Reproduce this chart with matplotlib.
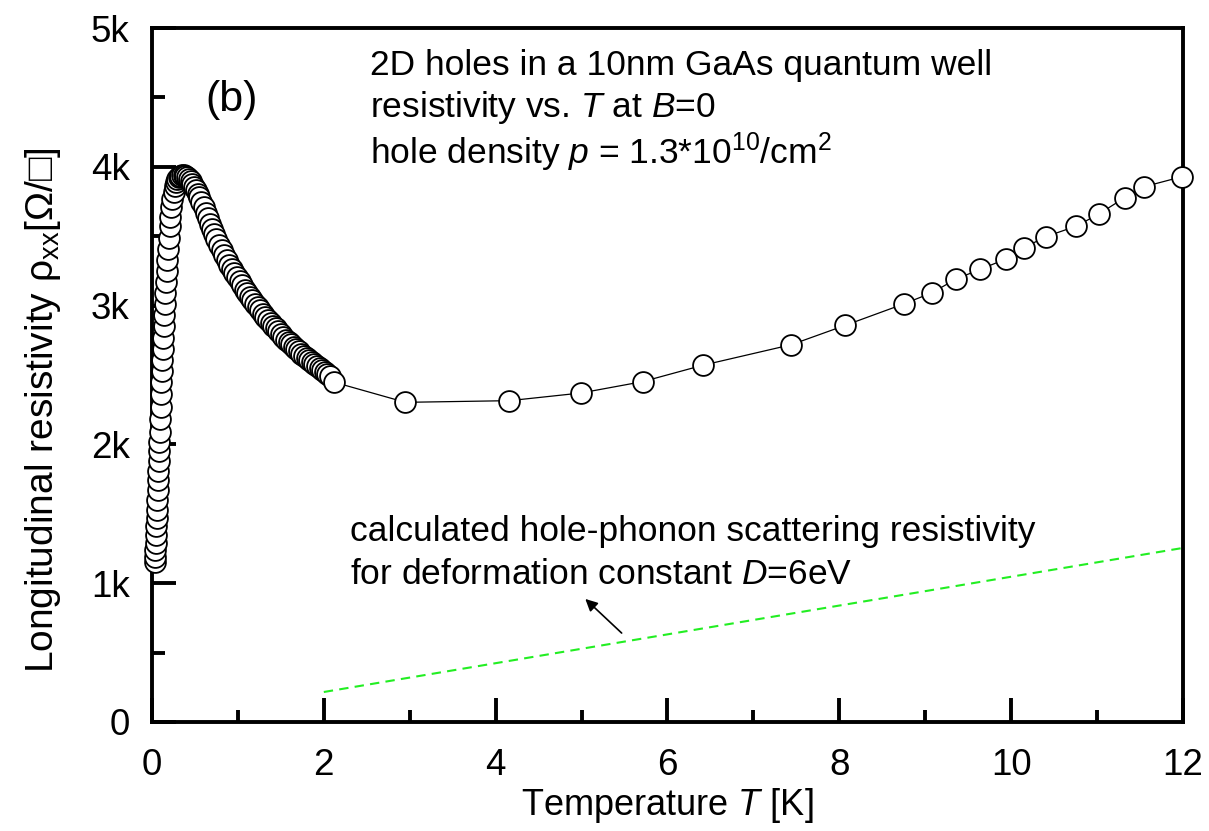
import matplotlib
matplotlib.use("Agg")
import matplotlib.pyplot as plt
from matplotlib.ticker import MultipleLocator

plt.rcParams['font.family'] = ['Liberation Sans', 'DejaVu Sans']
plt.rcParams['mathtext.fontset'] = 'custom'
plt.rcParams['mathtext.rm'] = 'Liberation Sans'
plt.rcParams['mathtext.it'] = 'Liberation Sans:italic'
plt.rcParams['mathtext.bf'] = 'Liberation Sans:bold'

# ---- data ----
T_rise = [0.030, 0.034, 0.038, 0.042, 0.046, 0.050, 0.054, 0.058, 0.062, 0.066,
          0.070, 0.074, 0.078, 0.082, 0.086, 0.090, 0.095, 0.100, 0.105, 0.110,
          0.115, 0.120, 0.125, 0.130, 0.136, 0.142, 0.148, 0.155, 0.162, 0.170,
          0.178, 0.186, 0.195, 0.205, 0.215, 0.226, 0.238, 0.251, 0.265, 0.280,
          0.296, 0.313, 0.331, 0.350, 0.370, 0.390, 0.410, 0.430, 0.450]
R_rise = [1150, 1190, 1240, 1290, 1350, 1410, 1470, 1530, 1600, 1670,
          1740, 1810, 1880, 1950, 2020, 2090, 2180, 2270, 2360, 2450,
          2530, 2610, 2690, 2770, 2850, 2930, 3010, 3090, 3170, 3250,
          3330, 3410, 3490, 3570, 3640, 3710, 3770, 3820, 3860, 3890,
          3910, 3925, 3935, 3940, 3940, 3935, 3925, 3910, 3895]

T_fall = [0.470, 0.490, 0.510, 0.530, 0.550, 0.575, 0.600, 0.625, 0.650, 0.675,
          0.700, 0.725, 0.750, 0.780, 0.810, 0.840, 0.870, 0.900, 0.930, 0.960,
          0.990, 1.020, 1.050, 1.080, 1.110, 1.140, 1.170, 1.200, 1.230, 1.260,
          1.290, 1.320, 1.350, 1.380, 1.410, 1.440, 1.470, 1.500, 1.530, 1.560,
          1.590, 1.620, 1.650, 1.680, 1.710, 1.740, 1.770, 1.800, 1.830, 1.860,
          1.890, 1.920, 1.950, 1.980, 2.010, 2.040, 2.070]
R_fall = [3875, 3855, 3830, 3805, 3780, 3745, 3710, 3670, 3630, 3590,
          3550, 3515, 3480, 3440, 3400, 3365, 3330, 3295, 3265, 3235,
          3205, 3175, 3145, 3115, 3090, 3065, 3040, 3015, 2990, 2965,
          2940, 2918, 2896, 2875, 2855, 2835, 2815, 2795, 2775, 2755,
          2737, 2720, 2703, 2686, 2670, 2654, 2638, 2622, 2607, 2592,
          2577, 2562, 2548, 2534, 2520, 2506, 2492]

T_high = [2.12, 2.95, 4.16, 4.99, 5.71, 6.41, 7.44, 8.07, 8.75, 9.08,
          9.36, 9.64, 9.94, 10.15, 10.40, 10.76, 11.02, 11.32, 11.55, 11.99]
R_high = [2448, 2303, 2315, 2370, 2452, 2570, 2718, 2858, 3012, 3093,
          3192, 3261, 3336, 3417, 3496, 3573, 3660, 3777, 3857, 3929]

T_calc = [2.0, 12.0]
R_calc = [216, 1254]

x_ticks = [0, 2, 4, 6, 8, 10, 12]
y_ticks = [0, 1000, 2000, 3000, 4000, 5000]
y_labels = ['0', '1k', '2k', '3k', '4k', '5k']

T_all = T_rise + T_fall + T_high
R_all = R_rise + R_fall + R_high

fig = plt.figure(figsize=(12.09, 8.31), dpi=100)
ax = fig.add_axes([0.1257, 0.1312, 0.8528, 0.8351])

ax.plot(T_all, R_all, color='black', lw=0.9, zorder=2)
ax.plot(T_all, R_all, ls='none', marker='o', ms=15, mfc='white', mec='black',
        mew=1.3, zorder=3, clip_on=False)
ax.plot(T_calc, R_calc, color='#22ee22', lw=1.5, ls=(0, (4.5, 3)), zorder=2)

ax.set_xlim(0, 12)
ax.set_ylim(0, 5000)
ax.set_xticks(x_ticks)
ax.set_yticks(y_ticks)
ax.set_yticklabels(y_labels)
ax.xaxis.set_minor_locator(MultipleLocator(1))
ax.yaxis.set_minor_locator(MultipleLocator(500))
ax.tick_params(which='both', direction='in', top=False, right=False,
               labelsize=26.5, width=2.8)
ax.tick_params(which='major', length=17)
ax.tick_params(which='minor', length=9)
ax.tick_params(axis='x', pad=19)
ax.tick_params(axis='y', pad=16)
for s in ax.spines.values():
    s.set_linewidth(2.8)

ax.set_xlabel('Temperature $T$ [K]', fontsize=26, labelpad=2)
ax.set_ylabel('Longitudinal resistivity ρ$_{\\mathregular{xx}}$[Ω/□]',
              fontsize=28)
ax.yaxis.set_label_coords(-0.086, 0.45)

fs = 25.5
ax.text(0.62, 4481, '(b)', fontsize=31, va='center')
ax.text(2.54, 4733, '2D holes in a 10nm GaAs quantum well', fontsize=fs, va='center')
ax.text(2.54, 4424, 'resistivity vs. $T$ at $B$=0', fontsize=fs, va='center')
ax.text(2.54, 4107, 'hole density $p$ = 1.3*10$^{\\mathregular{10}}$/cm$^{\\mathregular{2}}$',
        fontsize=fs, va='center')
ax.text(2.30, 1369, 'calculated hole-phonon scattering resistivity', fontsize=fs, va='center')
ax.text(2.30, 1059, 'for deformation constant $D$=6eV', fontsize=fs, va='center')
ax.annotate('', xy=(5.02, 900), xytext=(5.49, 627),
            arrowprops=dict(arrowstyle='-|>', color='black', lw=1.2,
                            mutation_scale=18))

fig.savefig('out.png', dpi=100)
